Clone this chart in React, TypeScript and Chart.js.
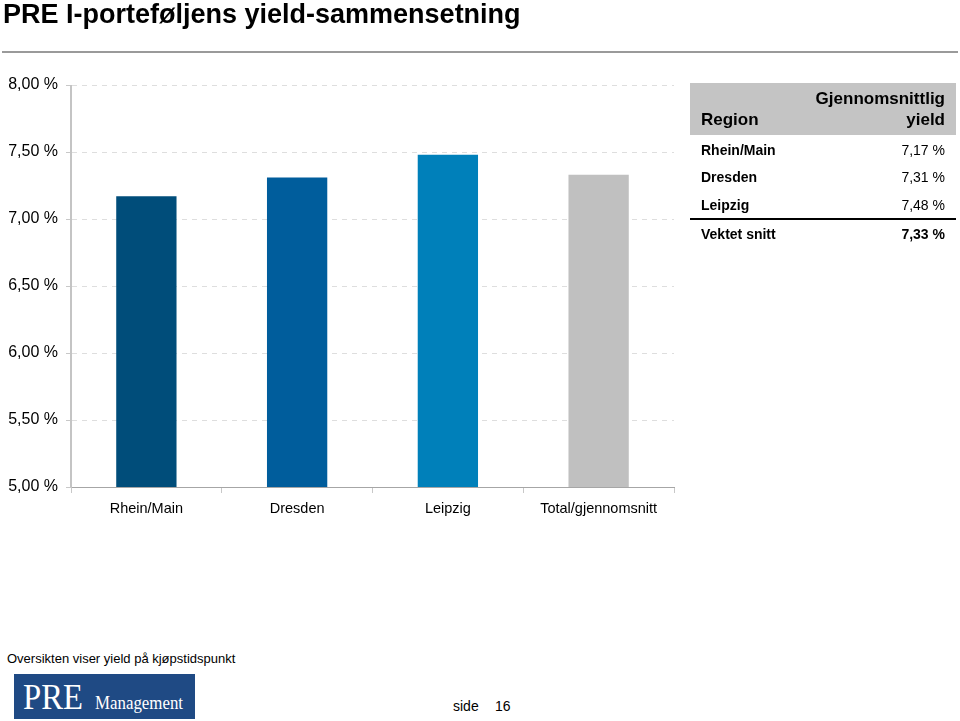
import React, { useEffect, useRef } from "react";
import { Chart, registerables } from "chart.js";

Chart.register(...registerables);

const categories = ["Rhein/Main", "Dresden", "Leipzig", "Total/gjennomsnitt"];
const yields = [7.17, 7.31, 7.48, 7.33];
const barColors = ["#004d7a", "#005d9c", "#0080ba", "#c0c0c0"];
const yMin = 5;
const yMax = 8;
const yStep = 0.5;

const tableRegions = ["Rhein/Main", "Dresden", "Leipzig"];
const tableValues = ["7,17 %", "7,31 %", "7,48 %"];
const totalLabel = "Vektet snitt";
const totalValue = "7,33 %";

const FONT = "'Liberation Sans', Arial, Helvetica, sans-serif";

function BarChart() {
  const ref = useRef<HTMLCanvasElement | null>(null);
  useEffect(() => {
    if (!ref.current) return;
    const chart = new Chart(ref.current, {
      type: "bar",
      data: {
        labels: categories,
        datasets: [
          {
            data: yields,
            backgroundColor: barColors,
            borderWidth: 0,
            barPercentage: 0.4,
            categoryPercentage: 1,
          },
        ],
      },
      options: {
        responsive: false,
        animation: false,
        layout: { padding: { left: 0, top: 85, right: 26, bottom: 0 } },
        plugins: { legend: { display: false }, tooltip: { enabled: false } },
        scales: {
          x: {
            afterFit: (s: any) => {
              s.height = 43;
            },
            border: { color: "#a6a6a6", width: 1 },
            grid: {
              offset: true,
              drawOnChartArea: false,
              drawTicks: true,
              tickLength: 6,
              color: "#c8c8c8",
            },
            ticks: {
              color: "#000",
              font: { family: FONT, size: 14.5 },
              padding: 7,
              maxRotation: 0,
            },
          },
          y: {
            min: yMin,
            max: yMax,
            afterFit: (s: any) => {
              s.width = 71;
            },
            border: { color: "#c4c4c4", width: 1, dash: [5, 5] },
            grid: {
              color: "#dedede",
              tickBorderDash: [],
              tickColor: "#c8c8c8",
              tickLength: 5,
            },
            ticks: {
              stepSize: yStep,
              color: "#000",
              font: { family: FONT, size: 16 },
              padding: 8,
              callback: (v: any) => Number(v).toFixed(2).replace(".", ",") + " %",
            },
          },
        },
      },
    });
    return () => chart.destroy();
  }, []);
  return (
    <canvas
      ref={ref}
      width={700}
      height={530}
      style={{ position: "absolute", left: 0, top: 0, width: 700, height: 530 }}
    />
  );
}

export default function App() {
  const rowTops = [140, 167, 195];
  return (
    <div
      style={{
        position: "absolute",
        left: 0,
        top: 0,
        width: 960,
        height: 721,
        background: "#fff",
        fontFamily: FONT,
        overflow: "hidden",
      }}
    >
      <BarChart />
      {/* solid y axis line over dashed border */}
      <div
        style={{
          position: "absolute",
          left: 70,
          top: 85,
          width: 1,
          height: 402,
          background: "#c4c4c4",
        }}
      />
      <div
        style={{
          position: "absolute",
          left: 3,
          top: -1,
          fontSize: 27,
          fontWeight: "bold",
          whiteSpace: "nowrap",
          lineHeight: "31px",
        }}
      >
        PRE I-porteføljens yield-sammensetning
      </div>
      <div
        style={{
          position: "absolute",
          left: 2,
          top: 51,
          width: 956,
          height: 2,
          background: "#9a9a9a",
        }}
      />
      {/* table */}
      <div
        style={{
          position: "absolute",
          left: 690,
          top: 83,
          width: 266,
          height: 52,
          background: "#c4c4c4",
        }}
      />
      <div
        style={{
          position: "absolute",
          left: 701,
          top: 109,
          fontSize: 17,
          fontWeight: "bold",
          lineHeight: "22px",
        }}
      >
        Region
      </div>
      <div
        style={{
          position: "absolute",
          right: 960 - 945,
          top: 88,
          fontSize: 17,
          fontWeight: "bold",
          lineHeight: "21px",
          textAlign: "right",
        }}
      >
        Gjennomsnittlig
        <br />
        yield
      </div>
      {tableRegions.map((r, i) => (
        <React.Fragment key={r}>
          <div
            style={{
              position: "absolute",
              left: 701,
              top: rowTops[i],
              fontSize: 14,
              fontWeight: "bold",
              lineHeight: "20px",
            }}
          >
            {r}
          </div>
          <div
            style={{
              position: "absolute",
              right: 960 - 945,
              top: rowTops[i],
              fontSize: 14,
              lineHeight: "20px",
            }}
          >
            {tableValues[i]}
          </div>
        </React.Fragment>
      ))}
      <div
        style={{
          position: "absolute",
          left: 690,
          top: 218,
          width: 266,
          height: 2,
          background: "#000",
        }}
      />
      <div
        style={{
          position: "absolute",
          left: 701,
          top: 224,
          fontSize: 14,
          fontWeight: "bold",
          lineHeight: "20px",
        }}
      >
        {totalLabel}
      </div>
      <div
        style={{
          position: "absolute",
          right: 960 - 945,
          top: 224,
          fontSize: 14,
          fontWeight: "bold",
          lineHeight: "20px",
        }}
      >
        {totalValue}
      </div>
      {/* footer */}
      <div
        style={{
          position: "absolute",
          left: 7,
          top: 651,
          fontSize: 13,
          lineHeight: "16px",
          whiteSpace: "nowrap",
        }}
      >
        Oversikten viser yield på kjøpstidspunkt
      </div>
      <svg
        width={181}
        height={45}
        style={{ position: "absolute", left: 14, top: 674 }}
      >
        <rect x={0} y={0} width={181} height={45} fill="#1f4a84" />
        <text
          x={9}
          y={35}
          fill="#fff"
          fontFamily="'Liberation Serif', 'DejaVu Serif', serif"
          fontSize={36}
          textLength={60}
          lengthAdjust="spacingAndGlyphs"
        >
          PRE
        </text>
        <text
          x={81}
          y={35}
          fill="#fff"
          fontFamily="'Liberation Serif', 'DejaVu Serif', serif"
          fontSize={18}
          textLength={88}
          lengthAdjust="spacingAndGlyphs"
        >
          Management
        </text>
      </svg>
      <div
        style={{
          position: "absolute",
          left: 453,
          top: 698,
          fontSize: 14,
          lineHeight: "16px",
          whiteSpace: "nowrap",
        }}
      >
        side
      </div>
      <div
        style={{
          position: "absolute",
          left: 495,
          top: 698,
          fontSize: 14,
          lineHeight: "16px",
          whiteSpace: "nowrap",
        }}
      >
        16
      </div>
    </div>
  );
}
